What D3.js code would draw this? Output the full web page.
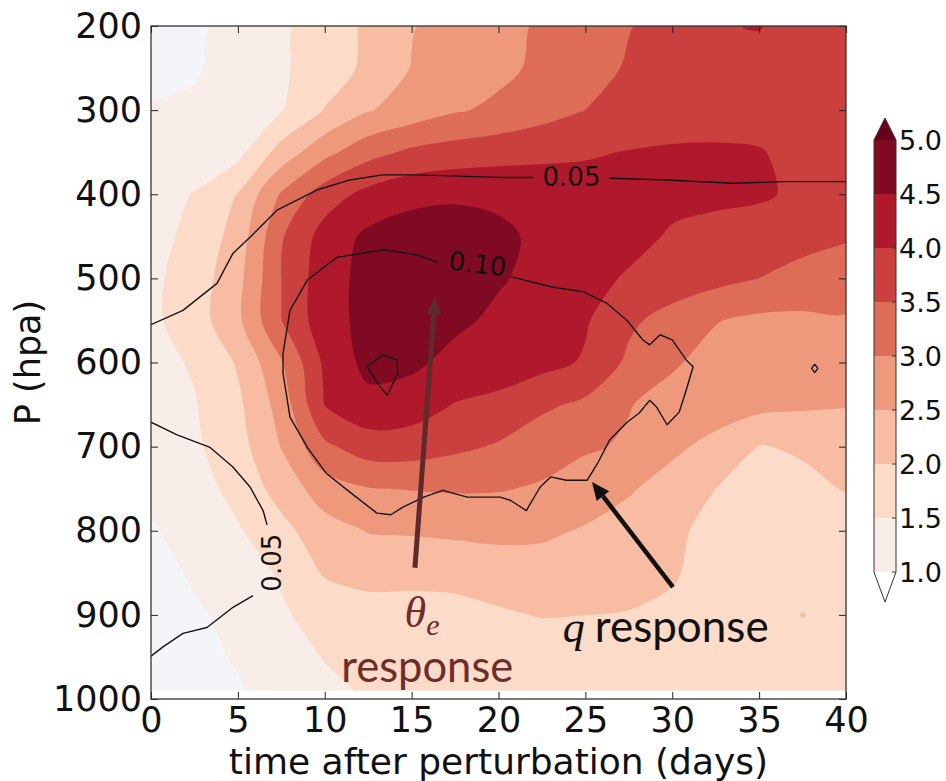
<!DOCTYPE html>
<html><head><meta charset="utf-8">
<script src="https://cdn.jsdelivr.net/npm/d3@7"></script>
<style>body{margin:0;background:#fff;} svg{display:block;}</style>
</head><body>
<svg id="chart" width="946" height="781"></svg>
<script>
// ---------------- data ----------------
const times = [0, 2.5, 5, 7.5, 10, 12.5, 15, 17.5, 20, 22.5, 25, 27.5, 30, 32.5, 35, 37.5, 40];
const pressures = [200, 250, 300, 350, 400, 450, 500, 550, 600, 650, 700, 750, 800, 850, 900, 950, 990];
// theta_e response, one row per pressure level, one column per time
const thetaE = [
  [0.80,0.92,1.15,1.42,1.72,2.08,2.47,2.70,2.88,3.05,3.25,3.48,3.65,3.97,4.02,3.80,3.75],
  [0.82,0.95,1.20,1.43,1.75,2.10,2.52,2.72,2.88,3.10,3.30,3.55,3.70,3.85,3.85,3.80,3.75],
  [1.05,1.08,1.30,1.47,2.02,2.47,2.70,2.95,3.10,3.30,3.50,3.65,3.75,3.80,3.80,3.80,3.75],
  [1.10,1.20,1.35,2.20,2.85,3.32,3.60,3.72,3.80,3.88,3.95,4.02,4.06,4.06,4.03,3.85,3.75],
  [1.30,1.52,2.02,3.05,3.75,4.15,4.35,4.42,4.40,4.30,4.20,4.15,4.12,4.10,4.07,3.90,3.80],
  [1.35,1.62,2.20,3.45,4.20,4.60,4.75,4.75,4.60,4.40,4.30,4.15,3.95,3.85,3.75,3.65,3.55],
  [1.40,1.72,2.35,3.50,4.30,4.65,4.85,4.80,4.55,4.35,4.15,3.95,3.80,3.65,3.50,3.35,3.25],
  [1.40,1.75,2.40,3.50,4.30,4.65,4.75,4.60,4.40,4.20,4.05,3.60,3.30,3.02,2.90,2.90,2.95],
  [1.35,1.55,2.05,2.95,4.10,4.65,4.60,4.35,4.30,4.15,3.95,3.40,3.05,2.85,2.75,2.70,2.65],
  [1.30,1.47,1.90,2.70,4.02,4.35,4.25,3.98,3.85,3.60,3.40,3.02,2.85,2.75,2.65,2.58,2.52],
  [1.20,1.42,1.80,2.52,3.40,3.75,3.75,3.60,3.45,3.20,3.05,2.95,2.60,2.35,1.98,2.05,2.25],
  [1.10,1.30,1.65,2.20,2.75,2.98,3.02,3.05,3.03,2.95,2.80,2.55,2.30,2.00,1.85,1.90,2.02],
  [0.95,1.20,1.45,1.85,2.30,2.52,2.55,2.60,2.65,2.60,2.45,2.30,2.10,1.85,1.75,1.75,1.80],
  [0.85,1.05,1.30,1.55,2.05,2.20,2.15,2.15,2.20,2.25,2.20,2.15,2.05,1.80,1.70,1.70,1.75],
  [0.80,0.95,1.10,1.45,1.65,1.75,1.80,1.85,1.95,2.02,2.00,1.98,1.90,1.75,1.70,2.02,1.80],
  [0.75,0.85,1.05,1.30,1.52,1.65,1.70,1.70,1.72,1.75,1.75,1.75,1.72,1.70,1.70,1.72,1.70],
  [0.70,0.80,0.95,1.20,1.40,1.55,1.62,1.65,1.65,1.68,1.70,1.70,1.70,1.70,1.70,1.70,1.70]
];
const levels = [1.0, 1.5, 2.0, 2.5, 3.0, 3.5, 4.0, 4.5, 5.0];
const xTicks = [0, 5, 10, 15, 20, 25, 30, 35, 40];
const yTicks = [200, 300, 400, 500, 600, 700, 800, 900, 1000];
const cbTicks = [1.0, 1.5, 2.0, 2.5, 3.0, 3.5, 4.0, 4.5, 5.0];

// q response contour lines, [time, pressure] pairs
const q005UpperA = [[0,555],[1.84,538],[3.8,506],[4.72,470],[5.7,451],[7.25,419],[9.55,395],[11.45,383],[13.35,377],[15.3,377],[20.08,380],[22.0,380]];
const q005UpperB = [[26.4,381],[29.7,383],[33.5,387],[36.4,385],[40,385]];
const q005LowerA = [[0,671],[1.5,686],[3.4,701],[4.7,724],[5.7,748],[6.45,776],[6.68,793]];
const q005LowerB = [[5.87,877],[4.72,891],[3.22,915],[1.84,922],[0.69,938],[0,949]];
const q010Loop = [[16.5,481],[15.3,472],[13.4,466],[10.7,475],[9.0,502],[8.0,538],[7.6,589],[7.6,613],[8.0,665],[9.0,701],[10.1,732],[11.5,755],[13.0,779],[13.8,781],[14.5,772],[15.7,760],[16.8,752],[18.2,760],[20.1,760],[20.7,764],[21.6,776],[22.4,748],[23.0,736],[23.9,740],[25.1,740],[25.7,720],[26.4,692],[27.4,671],[28.1,660],[28.7,645],[29.1,653],[29.7,674],[30.4,659],[30.8,633],[31.2,605],[30.8,597],[30.0,573],[29.3,567],[28.7,579],[28.3,573],[27.4,550],[26.2,529],[24.9,516],[23.0,510],[20.7,498]];
const qSmallLoop = [[12.43,605],[13.35,591],[14.16,597],[14.2,613],[13.6,639],[13.2,629],[12.43,605]];
const qTinyLoop = [[38.2,602],[38.38,607],[38.2,612],[38.02,607],[38.2,602]];
const qLabels = [
  {text:"0.05", t:24.2, p:380, angle:0},
  {text:"0.10", t:18.8, p:483, angle:7},
  {text:"0.05", t:6.95, p:838, angle:-90}
];

// ---------------- styles ----------------
const bandColors = ["#f8ede8","#fcdbc8","#f7bca2","#ee987c","#de6d57","#c9403f","#b0192c","#800a21","#67001f"];
const underColor = "#f4f5f8";

const svg = d3.select("#chart");
const x = d3.scaleLinear().domain([0, 40]).range([151, 846]);
const y = d3.scaleLinear().domain([200, 1000]).range([26, 699]);

svg.append("defs").append("clipPath").attr("id","plotclip")
  .append("rect")
  .attr("x", x(times[0])).attr("y", y(pressures[0]))
  .attr("width", x(times[times.length-1]) - x(times[0]))
  .attr("height", y(pressures[pressures.length-1]) - y(pressures[0]));

const plot = svg.append("g").attr("clip-path","url(#plotclip)");
plot.append("rect")
  .attr("x", x(0)).attr("y", y(200)).attr("width", x(40)-x(0)).attr("height", y(1000)-y(200))
  .attr("fill", underColor);

// filled contours
const nx = times.length, ny = pressures.length;
const tOf = d3.scaleLinear().domain(times.map((d,i)=>i+0.5)).range(times);
const pOf = d3.scaleLinear().domain(pressures.map((d,i)=>i+0.5)).range(pressures);
const contours = d3.contours().size([nx, ny]).thresholds(levels)(thetaE.flat());
const ringLine = d3.line()
  .x(d => x(tOf(d[0]))).y(d => y(pOf(d[1])))
  .curve(d3.curveCatmullRomClosed.alpha(0.5));
contours.forEach((c, i) => {
  const dstr = c.coordinates.map(poly => poly.map(ring => ringLine(ring.slice(0, -1))).join("")).join("");
  if (!dstr) return;
  plot.append("path").attr("d", dstr).attr("fill", bandColors[i]).attr("fill-rule","evenodd");
});

// q contour lines
const qLine = d3.line().x(d => x(d[0])).y(d => y(d[1]));
[q005UpperA, q005UpperB, q005LowerA, q005LowerB, q010Loop, qSmallLoop, qTinyLoop].forEach(seg => {
  plot.append("path").attr("d", qLine(seg)).attr("fill","none")
    .attr("stroke","#151515").attr("stroke-width",1.4).attr("stroke-linejoin","round");
});
qLabels.forEach(l => {
  svg.append("text")
    .attr("transform", `translate(${x(l.t)},${y(l.p)}) rotate(${l.angle})`)
    .attr("text-anchor","middle").attr("dominant-baseline","central")
    .attr("font-family","DejaVu Sans").attr("font-size",26).attr("fill","#111")
    .text(l.text);
});

// frame + axes
const axFont = g => g.attr("font-family","DejaVu Sans").attr("font-size",35);
const gx = svg.append("g").attr("transform",`translate(0,${y(1000)})`)
  .call(d3.axisBottom(x).tickValues(xTicks).tickSizeInner(-7).tickSizeOuter(0).tickPadding(8).tickFormat(d3.format("d")))
  .call(axFont);
const gy = svg.append("g").attr("transform",`translate(${x(0)},0)`)
  .call(d3.axisLeft(y).tickValues(yTicks).tickSizeInner(-7).tickSizeOuter(0).tickPadding(9).tickFormat(d3.format("d")))
  .call(axFont);
const gt = svg.append("g").attr("transform",`translate(0,${y(200)})`)
  .call(d3.axisTop(x).tickValues(xTicks).tickSizeInner(-7).tickSizeOuter(0).tickFormat(""));
const gr = svg.append("g").attr("transform",`translate(${x(40)},0)`)
  .call(d3.axisRight(y).tickValues(yTicks).tickSizeInner(-7).tickSizeOuter(0).tickFormat(""));
[gx, gy, gt, gr].forEach(g => {
  g.select(".domain").remove();
  g.selectAll(".tick line").attr("stroke","#222").attr("stroke-width",1);
  g.selectAll(".tick text").attr("fill","#111");
});
svg.append("rect").attr("x", x(0)).attr("y", y(200))
  .attr("width", x(40)-x(0)).attr("height", y(1000)-y(200))
  .attr("fill","none").attr("stroke","#333").attr("stroke-width",1.3);

svg.append("text").attr("x", (x(0)+x(40))/2).attr("y", 774)
  .attr("text-anchor","middle").attr("font-family","DejaVu Sans").attr("font-size",36).attr("fill","#111")
  .text("time after perturbation (days)");
svg.append("text").attr("transform",`translate(28,${(y(200)+y(1000))/2}) rotate(-90)`)
  .attr("text-anchor","middle").attr("dominant-baseline","central")
  .attr("font-family","DejaVu Sans").attr("font-size",35).attr("fill","#111")
  .text("P (hpa)");

// colorbar
const cb = svg.append("g");
const cy = d3.scaleLinear().domain([1, 5]).range([572, 140]);
const cbx0 = 874, cbw = 22;
for (let i = 0; i < levels.length - 1; i++) {
  cb.append("rect").attr("x", cbx0).attr("y", cy(levels[i+1]))
    .attr("width", cbw).attr("height", cy(levels[i]) - cy(levels[i+1]))
    .attr("fill", bandColors[i]);
}
const topTip = cy(5) - 22, botTip = cy(1) + 30;
cb.append("path").attr("d", `M${cbx0},${cy(5)}L${cbx0+cbw/2},${topTip}L${cbx0+cbw},${cy(5)}Z`).attr("fill", bandColors[8]);
cb.append("path").attr("d", `M${cbx0},${cy(1)}L${cbx0+cbw/2},${botTip}L${cbx0+cbw},${cy(1)}Z`).attr("fill", "#ffffff");
cb.append("path")
  .attr("d", `M${cbx0},${cy(5)}L${cbx0+cbw/2},${topTip}L${cbx0+cbw},${cy(5)}L${cbx0+cbw},${cy(1)}L${cbx0+cbw/2},${botTip}L${cbx0},${cy(1)}Z`)
  .attr("fill","none").attr("stroke","#333").attr("stroke-width",1);
cbTicks.forEach(v => {
  cb.append("line").attr("x1", cbx0+cbw-4).attr("x2", cbx0+cbw).attr("y1", cy(v)).attr("y2", cy(v)).attr("stroke","#333");
  cb.append("text").attr("x", cbx0+cbw+3).attr("y", cy(v)).attr("dominant-baseline","central")
    .attr("font-family","DejaVu Sans").attr("font-size",27).attr("fill","#111")
    .text(d3.format(".1f")(v));
});

// annotations
function arrow(t0, p0, t1, p1, color, width, headLen, headHalf) {
  const xa = x(t0), ya = y(p0), xb = x(t1), yb = y(p1);
  const dx = xb - xa, dy = yb - ya, L = Math.hypot(dx, dy), ux = dx / L, uy = dy / L;
  const bx = xb - ux * headLen, by = yb - uy * headLen;
  svg.append("line").attr("x1", xa).attr("y1", ya).attr("x2", bx).attr("y2", by)
    .attr("stroke", color).attr("stroke-width", width);
  svg.append("path").attr("d", `M${xb},${yb}L${bx - uy*headHalf},${by + ux*headHalf}L${bx + uy*headHalf},${by - ux*headHalf}Z`)
    .attr("fill", color);
}
arrow(15.19, 844, 16.35, 522, "#5e2a2b", 5, 18, 8);
arrow(30.04, 867, 25.38, 742, "#111111", 4.5, 18, 8);

const th = svg.append("text").attr("x", x(15.6)).attr("y", y(897)).attr("text-anchor","middle")
  .attr("dominant-baseline","central").attr("fill","#6e2c2c");
th.append("tspan").attr("font-family","Liberation Serif").attr("font-style","italic").attr("font-size",44).text("θ");
th.append("tspan").attr("font-family","Liberation Serif").attr("font-style","italic").attr("font-size",30).attr("dy", 12).text("e");
svg.append("text").attr("x", x(15.9)).attr("y", y(980)).attr("text-anchor","middle")
  .attr("font-family","Lato").attr("font-size",44).attr("fill","#6e2c2c")
  .attr("textLength", 172).attr("lengthAdjust","spacingAndGlyphs").text("response");
const qt = svg.append("text").attr("x", x(23.7)).attr("y", y(932)).attr("fill","#111");
qt.append("tspan").attr("font-family","Liberation Serif").attr("font-style","italic").attr("font-size",44).text("q");
qt.append("tspan").attr("font-family","Lato").attr("font-size",44).attr("dx", 10).text("response");
</script>
</body></html>
